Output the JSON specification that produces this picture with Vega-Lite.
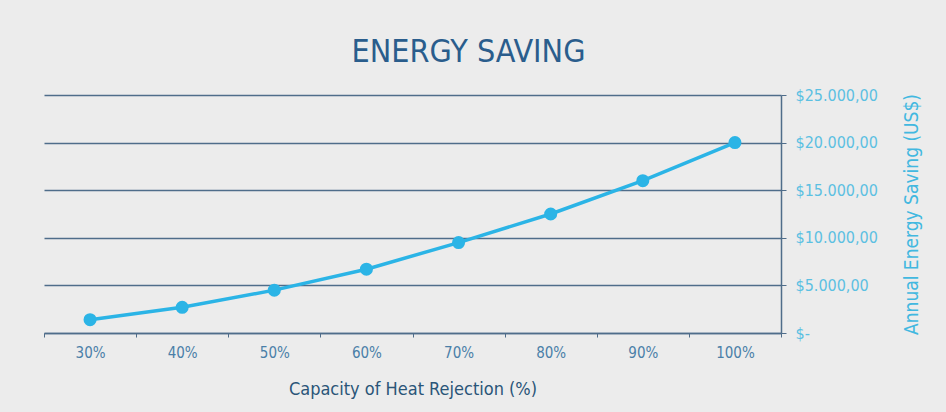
{
  "$schema": "https://vega.github.io/schema/vega-lite/v6.json",
  "autosize": "none",
  "width": 737,
  "height": 238,
  "padding": {"left": 44, "top": 95, "right": 165, "bottom": 79},
  "background": "#ececec",
  "title": {
    "text": "ENERGY SAVING",
    "font": "DejaVu Sans Condensed, sans-serif",
    "fontSize": 32,
    "fontWeight": "normal",
    "color": "#2a5d8c",
    "anchor": "middle",
    "dx": 56,
    "offset": 18
  },
  "data": {
    "values": [
      {"capacity": "30%", "saving": 1400},
      {"capacity": "40%", "saving": 2700},
      {"capacity": "50%", "saving": 4500},
      {"capacity": "60%", "saving": 6700},
      {"capacity": "70%", "saving": 9500},
      {"capacity": "80%", "saving": 12500},
      {"capacity": "90%", "saving": 16000},
      {"capacity": "100%", "saving": 20000}
    ]
  },
  "config": {
    "view": {"stroke": null},
    "font": "DejaVu Sans Condensed, sans-serif"
  },
  "encoding": {
    "x": {
      "field": "capacity",
      "type": "ordinal",
      "sort": null,
      "scale": {"type": "band", "paddingInner": 0, "paddingOuter": 0},
      "axis": {
        "title": "Capacity of Heat Rejection (%)",
        "titleFontSize": 18,
        "titleFontWeight": "normal",
        "titleColor": "#2a5578",
        "titlePadding": 20,
        "labelAngle": 0,
        "labelFontSize": 15,
        "labelColor": "#4a7fa8",
        "labelPadding": 8,
        "tickBand": "extent",
        "tickSize": 4,
        "tickColor": "#4f6d8a",
        "domainColor": "#4f6d8a",
        "domainWidth": 1.5,
        "grid": false
      }
    },
    "y": {
      "field": "saving",
      "type": "quantitative",
      "scale": {"domain": [0, 25000], "nice": false},
      "axis": {
        "orient": "right",
        "values": [0, 5000, 10000, 15000, 20000, 25000],
        "labelExpr": "datum.value == 0 ? '$-' : '$' + replace(replace(replace(format(datum.value, ',.2f'), ',', '_'), '.', ','), '_', '.')",
        "labelFontSize": 16,
        "labelColor": "#5cc0e2",
        "labelPadding": 9,
        "tickSize": 5,
        "tickColor": "#4f6d8a",
        "domainColor": "#4f6d8a",
        "domainWidth": 1.5,
        "grid": true,
        "gridColor": "#4f6d8a",
        "gridWidth": 1.5,
        "gridOpacity": 1,
        "title": "Annual Energy Saving  (US$)",
        "titleAngle": 270,
        "titleFontSize": 19,
        "titleFontWeight": "normal",
        "titleColor": "#42b8e0",
        "titlePadding": 44
      }
    }
  },
  "layer": [
    {"mark": {"type": "line", "color": "#2bb4e6", "strokeWidth": 3.5}},
    {"mark": {"type": "point", "filled": true, "color": "#2bb4e6", "size": 170, "opacity": 1}}
  ]
}
